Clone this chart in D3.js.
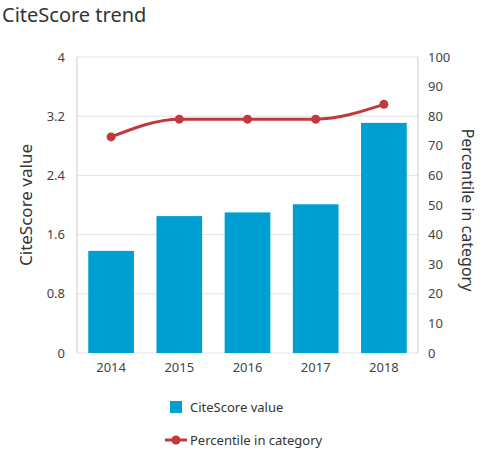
<!DOCTYPE html>
<html><head><meta charset="utf-8">
<script src="https://cdn.jsdelivr.net/npm/d3@7.9.0/dist/d3.min.js"></script>
<style>body{margin:0;background:#fff;font-family:"Noto Sans",sans-serif;}</style>
</head><body><svg id="c" width="482" height="451"></svg>
<script>
// ---------- data ----------
const years = ["2014", "2015", "2016", "2017", "2018"];
const citeScore = [1.38, 1.85, 1.9, 2.01, 3.11];
const percentile = [73, 79, 79, 79, 84];
const leftTicks = [0, 0.8, 1.6, 2.4, 3.2, 4];
const rightTicks = d3.range(0, 101, 10);

const svg = d3.select("#c");
const m = { l: 77, r: 418, t: 57, b: 353 };

const x = d3.scaleBand().domain(years).range([m.l, m.r]).paddingInner(0.33).paddingOuter(0.165);
const yL = d3.scaleLinear().domain([0, 4]).range([m.b, m.t]);
const yR = d3.scaleLinear().domain([0, 100]).range([m.b, m.t]);

svg.append("text").attr("x", 2).attr("y", 22).attr("font-size", 20).attr("fill", "#333").text("CiteScore trend");

// grid
svg.append("g").selectAll("line").data(leftTicks).join("line")
  .attr("x1", m.l).attr("x2", m.r).attr("y1", d => yL(d)).attr("y2", d => yL(d))
  .attr("stroke", "#e3e3e3");
svg.append("line").attr("x1", m.l).attr("x2", m.l).attr("y1", m.t).attr("y2", m.b).attr("stroke", "#ccc");
svg.append("line").attr("x1", m.r).attr("x2", m.r).attr("y1", m.t).attr("y2", m.b).attr("stroke", "#ccc");

// bars
svg.append("g").selectAll("rect").data(citeScore).join("rect")
  .attr("x", (d, i) => x(years[i])).attr("width", x.bandwidth())
  .attr("y", d => yL(d)).attr("height", d => m.b - yL(d)).attr("fill", "#009fd1");

// axes
const axL = svg.append("g").attr("transform", `translate(${m.l},0)`)
  .call(d3.axisLeft(yL).tickValues(leftTicks).tickSize(0).tickPadding(12).tickFormat(d => d));
const axR = svg.append("g").attr("transform", `translate(${m.r},0)`)
  .call(d3.axisRight(yR).tickValues(rightTicks).tickSize(0).tickPadding(10));
const axB = svg.append("g").attr("transform", `translate(0,${m.b})`)
  .call(d3.axisBottom(x).tickSize(0).tickPadding(10));
[axL, axR, axB].forEach(a => {
  a.select(".domain").remove();
  a.selectAll("text").attr("font-size", 13).attr("fill", "#444").attr("font-family", "Noto Sans");
});

// line
const line = d3.line().x((d, i) => x(years[i]) + x.bandwidth() / 2).y(d => yR(d)).curve(d3.curveMonotoneX);
svg.append("path").datum(percentile).attr("d", line).attr("fill", "none").attr("stroke", "#c0393e").attr("stroke-width", 3);
svg.append("g").selectAll("circle").data(percentile).join("circle")
  .attr("cx", (d, i) => x(years[i]) + x.bandwidth() / 2).attr("cy", d => yR(d)).attr("r", 4.5).attr("fill", "#c0393e");

// axis titles
svg.append("text").attr("transform", `translate(32,${(m.t + m.b) / 2}) rotate(-90)`)
  .attr("text-anchor", "middle").attr("font-size", 17).attr("fill", "#333").text("CiteScore value");
svg.append("text").attr("transform", `translate(462,${(m.t + m.b) / 2 + 5}) rotate(90)`)
  .attr("text-anchor", "middle").attr("font-size", 16).attr("fill", "#333").text("Percentile in category");

// legend
svg.append("rect").attr("x", 170).attr("y", 401).attr("width", 12).attr("height", 12).attr("fill", "#009fd1");
svg.append("text").attr("x", 190).attr("y", 412).attr("font-size", 13).attr("fill", "#333").text("CiteScore value");
svg.append("line").attr("x1", 165).attr("x2", 187).attr("y1", 440).attr("y2", 440).attr("stroke", "#c0393e").attr("stroke-width", 3);
svg.append("circle").attr("cx", 176).attr("cy", 440).attr("r", 4.5).attr("fill", "#c0393e");
svg.append("text").attr("x", 190).attr("y", 445).attr("font-size", 13).attr("fill", "#333").text("Percentile in category");
</script></body></html>
